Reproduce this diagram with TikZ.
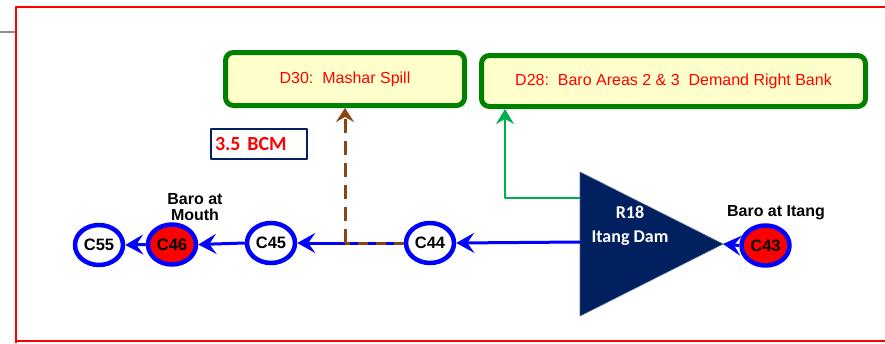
\documentclass[tikz,border=0pt]{standalone}
\usepackage{fontspec}
\setmainfont{Liberation Sans}
\newfontfamily\calibri{Carlito}
\usepackage{tikz}
\usetikzlibrary{arrows.meta}
\usetikzlibrary{shapes.geometric}
\definecolor{ffqqqq}{rgb}{1.,0.,0.}
\definecolor{qqqqff}{rgb}{0.,0.,1.}
\definecolor{qqzzqq}{rgb}{0.,0.5,0.}
\definecolor{qqbbqq}{rgb}{0.,0.69,0.31}
\definecolor{ffffcc}{rgb}{1.,1.,0.8}
\definecolor{qqccsz}{rgb}{0.,0.125,0.376}
\definecolor{bbsszz}{rgb}{0.55,0.27,0.07}
\definecolor{aaaaaa}{rgb}{0.55,0.55,0.55}

\begin{document}
\begin{tikzpicture}[line cap=butt,line join=round,x=1pt,y=-1pt,
  demand/.style={draw=qqzzqq,line width=5pt,fill=ffffcc,rounded corners=8pt,text=ffqqqq,font=\fontsize{16}{18}\selectfont},
  cnode/.style={ellipse,draw=qqqqff,line width=4.5pt,fill=white,minimum width=48pt,minimum height=40pt,inner sep=0pt,font=\bfseries\fontsize{16.5}{18}\selectfont},
  lbl/.style={font=\bfseries\fontsize{16}{16}\selectfont,align=center,inner sep=0pt},
  flow/.style={qqqqff,line width=3pt,-{Stealth[length=18pt,width=20pt,inset=7pt]}}]
\useasboundingbox (0,0) rectangle (885,343);
% frame
\draw[color=aaaaaa,line width=2pt] (0,32) -- (16,32);
\draw[color=ffqqqq,line width=2pt] (885,7) -- (16,7) -- (16,343);
\draw[color=ffqqqq,line width=2pt] (16,341) -- (885,341);
% demands
\node[demand,minimum width=239pt,minimum height=53pt] (d30) at (345,79) {D30:\ \ Mashar Spill};
\node[demand,minimum width=384pt,minimum height=51pt] (d28) at (673.5,81) {D28:\ \ Baro Areas 2 \& 3\ \ Demand Right Bank};
\node[draw=qqccsz,line width=2pt,text width=88pt,align=left,inner sep=4pt,minimum height=30pt,text=ffqqqq,font=\calibri\bfseries\fontsize{20}{22}\selectfont] (bcm) at (259,144) {3.5 BCM};
% reservoir
\coordinate (damtop) at (580,172);
\coordinate (dambot) at (580,316);
\coordinate (apex) at (723,244);
\fill[qqccsz] (damtop) -- (apex) -- (dambot) -- cycle;
\draw[color=qqccsz!70!white,line width=0.6pt] (damtop) -- (apex) -- (dambot) -- cycle;
\node[font=\calibri\bfseries\fontsize{18}{24}\selectfont,text=white,align=center] (r18) at (630,226) {R18\\Itang Dam};
\coordinate (damw) at (580,242);
\coordinate (damg) at (580,198);
\coordinate (bend) at (505,198);
% nodes
\node[cnode] (c55) at (99,245) {C55};
\node[cnode,fill=ffqqqq] (c46) at (172,244.5) {C46};
\node[cnode] (c45) at (271,243) {C45};
\node[cnode] (c44) at (430,243) {C44};
\node[cnode,fill=ffqqqq] (c43) at (765.5,245.5) {C43};
\node[lbl] (mouth) at (195,207) {Baro at\\Mouth};
\node[lbl] (itang) at (776,213) {Baro at Itang};
\coordinate (split) at (345,243);
% flows
\draw[flow] (c43.west) -- (apex);
\draw[flow] (damw) -- (c44.east);
\draw[flow] (c44.west) -- (c45.east);
\draw[flow] (c45.west) -- (c46.east);
\draw[flow] (c46.west) -- (c55.east);
\draw[color=qqbbqq,line width=2pt,-{Stealth[length=15pt,width=18pt,inset=5pt]}] (damg) -- (bend) -- (bend |- d28.south);
\draw[color=bbsszz,line width=3pt,dash pattern=on 10pt off 8pt] (c44.west) -- (split);
\draw[color=bbsszz,line width=3pt,dash pattern=on 14pt off 8pt,-{Stealth[length=14pt,width=18pt,inset=5pt]}] (split) -- (split |- d30.south);
\end{tikzpicture}
\end{document}
